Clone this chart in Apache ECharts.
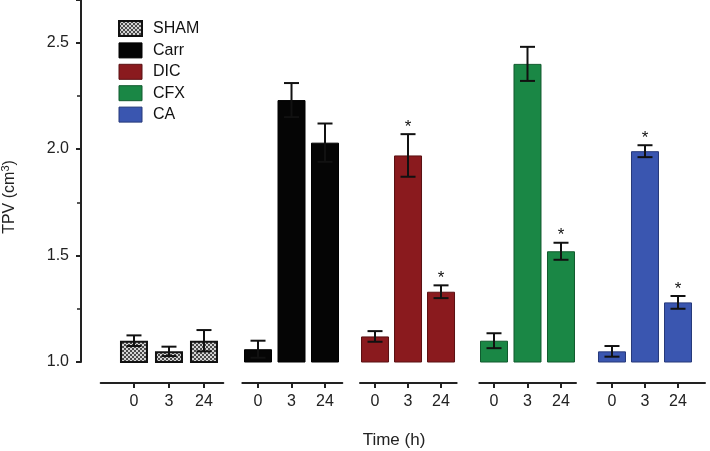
<!DOCTYPE html>
<html>
<head>
<meta charset="utf-8">
<script src="https://cdn.jsdelivr.net/npm/echarts@6/dist/echarts.min.js"></script>
<style>html,body{margin:0;padding:0;background:#fff}#c{width:710px;height:451px}</style>
</head>
<body>
<div id="c"></div>
<script>
// ---- data ----
const groups = ['SHAM', 'Carr', 'DIC', 'CFX', 'CA'];
const timeLabels = ['0', '3', '24'];
const shamMean = [1.10, 1.05, 1.10];
const shamErr  = [0.025, 0.022, 0.05];
const carrMean = [1.06, 2.23, 2.03];
const carrErr  = [0.04, 0.08, 0.09];
const dicMean  = [1.12, 1.97, 1.33];
const dicErr   = [0.025, 0.10, 0.03];
const cfxMean  = [1.10, 2.40, 1.52];
const cfxErr   = [0.035, 0.08, 0.04];
const caMean   = [1.05, 1.99, 1.28];
const caErr    = [0.025, 0.028, 0.03];
const shamSig = [0, 0, 0];
const carrSig = [0, 0, 0];
const dicSig  = [0, 1, 1];
const cfxSig  = [0, 0, 1];
const caSig   = [0, 1, 1];
const yTickLabels = ['1.0', '1.5', '2.0', '2.5'];

const means = [shamMean, carrMean, dicMean, cfxMean, caMean];
const errs = [shamErr, carrErr, dicErr, cfxErr, caErr];
const sigs = [shamSig, carrSig, dicSig, cfxSig, caSig];

// ---- layout / style ----
const FONT = 'Liberation Sans, Arial, sans-serif';
const layout = [
  {left: 100.7, width: 122.6, min: -0.951, max: 2.552},
  {left: 242.3, width: 100.0, min: -0.469, max: 2.516},
  {left: 360.0, width: 96.7,  min: -0.455, max: 2.475},
  {left: 479.3, width: 96.7,  min: -0.439, max: 2.448},
  {left: 597.3, width: 107.7, min: -0.445, max: 2.818}
];
const pat = document.createElement('canvas');
pat.width = 4; pat.height = 4;
const pctx = pat.getContext('2d');
pctx.fillStyle = '#d4d4d4'; pctx.fillRect(0, 0, 4, 4);
pctx.fillStyle = '#4a4a4a'; pctx.fillRect(0, 0, 2, 2); pctx.fillRect(2, 2, 2, 2);
const fills = [{image: pat, repeat: 'repeat'}, '#050505', '#8a1a1e', '#1a8745', '#3a56b0'];
const borders = ['#111', '#000', '#5a1012', '#115a2e', '#26397a'];
const borderW = [2, 1, 1, 1, 1];

const grids = [], xAxes = [], yAxes = [], series = [];
layout.forEach((L, i) => {
  grids.push({left: L.left, width: L.width, top: 0, bottom: 89});
  xAxes.push({
    type: 'value', gridIndex: i, min: L.min, max: L.max, position: 'bottom', offset: 21,
    axisLine: {show: true, onZero: false, lineStyle: {color: '#222', width: 2}},
    axisTick: {show: true, customValues: [0, 1, 2], length: 5, lineStyle: {color: '#222', width: 2}},
    axisLabel: {customValues: [0, 1, 2], formatter: v => timeLabels[Math.round(v)], fontSize: 16, color: '#222', margin: 11, fontFamily: FONT},
    splitLine: {show: false}
  });
  yAxes.push({
    type: 'value', gridIndex: i, min: 1.0, max: 2.7, interval: 0.5,
    show: i === 0, position: 'left', offset: 19.7,
    axisLine: {show: true, onZero: false, lineStyle: {color: '#222', width: 2}},
    axisTick: {show: true, length: 5, lineStyle: {color: '#222', width: 2}},
    minorTick: {show: true, splitNumber: 2, length: 4, lineStyle: {color: '#222', width: 1.5}},
    axisLabel: {
      formatter: v => {
        const idx = (v - 1.0) / 0.5;
        return Math.abs(idx - Math.round(idx)) < 1e-6 ? (yTickLabels[Math.round(idx)] || '') : '';
      },
      fontSize: 16, color: '#222', margin: 12, fontFamily: FONT
    },
    splitLine: {show: false}
  });
  series.push({
    type: 'bar', name: groups[i], xAxisIndex: i, yAxisIndex: i, barWidth: 28,
    itemStyle: {color: fills[i], borderColor: borders[i], borderWidth: borderW[i]},
    data: means[i].map((m, k) => [k, m]), z: 2
  });
  series.push({
    type: 'custom', xAxisIndex: i, yAxisIndex: i, z: 5, clip: false,
    data: means[i].map((m, k) => [k, m, errs[i][k], sigs[i][k]]),
    renderItem: (params, api) => {
      const x = api.value(0), m = api.value(1), e = api.value(2), s = api.value(3);
      const top = api.coord([x, m + e]);
      const bot = api.coord([x, m - e]);
      const cx = top[0], hw = 7.5;
      const st = {stroke: '#111', lineWidth: 2};
      const ch = [
        {type: 'line', shape: {x1: cx, y1: top[1], x2: cx, y2: bot[1]}, style: st},
        {type: 'line', shape: {x1: cx - hw, y1: top[1], x2: cx + hw, y2: top[1]}, style: st},
        {type: 'line', shape: {x1: cx - hw, y1: bot[1], x2: cx + hw, y2: bot[1]}, style: st}
      ];
      if (s) ch.push({type: 'text', x: cx, y: top[1] - 7, style: {text: '*', fontSize: 17, fontFamily: FONT, fill: '#111', align: 'center', verticalAlign: 'middle'}});
      return {type: 'group', children: ch};
    }
  });
});

const chart = echarts.init(document.getElementById('c'), null, {renderer: 'canvas'});
chart.setOption({
  animation: false,
  backgroundColor: '#fff',
  grid: grids, xAxis: xAxes, yAxis: yAxes, series: series,
  legend: {
    orient: 'vertical', left: 113, top: 15, itemWidth: 23, itemHeight: 15, itemGap: 5.4,
    icon: 'rect', selectedMode: false,
    textStyle: {fontSize: 16, color: '#111', fontFamily: FONT, padding: [0, 0, 0, 6]},
    data: groups.map((g, i) => ({name: g, itemStyle: {color: fills[i], borderColor: borders[i], borderWidth: borderW[i]}}))
  },
  graphic: [
    {type: 'text', x: 10, y: 197, rotation: Math.PI / 2,
     style: {text: 'TPV (cm{sup|3})', fontSize: 16, fontFamily: FONT, fill: '#222', align: 'center', verticalAlign: 'middle',
             rich: {sup: {fontSize: 11, fontFamily: FONT, fill: '#222', verticalAlign: 'top', padding: [0, 0, 8, 0]}}}},
    {type: 'text', x: 394, y: 440,
     style: {text: 'Time (h)', fontSize: 17, fontFamily: FONT, fill: '#222', align: 'center', verticalAlign: 'middle'}}
  ]
});
</script>
</body>
</html>
